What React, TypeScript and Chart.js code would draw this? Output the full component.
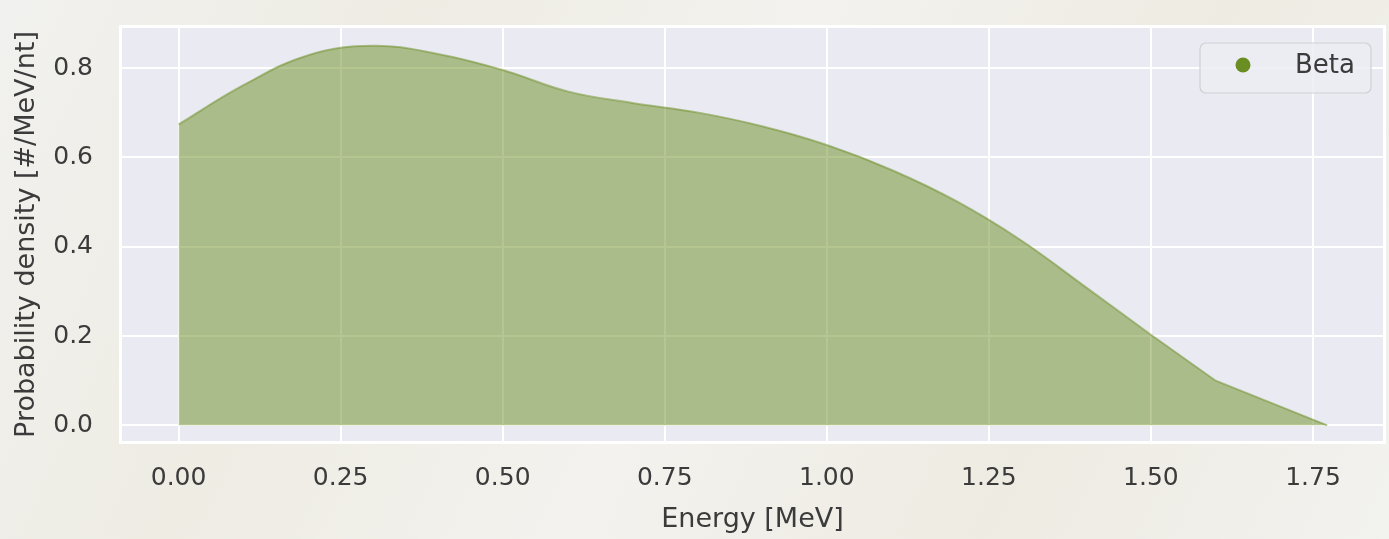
import React, { useEffect, useRef } from "react";
import { Chart, registerables } from "chart.js";

Chart.register(...registerables);

const energy = [0, 0.1, 0.2, 0.3, 0.4, 0.5, 0.6, 0.7, 0.8, 0.9, 1.0, 1.1, 1.2, 1.3, 1.4, 1.5, 1.6, 1.772];
const density = [0.674, 0.762, 0.829, 0.85, 0.832, 0.796, 0.748, 0.722, 0.701, 0.67, 0.628, 0.572, 0.502, 0.414, 0.309, 0.203, 0.1, 0.0];
const xTicks = [0, 0.25, 0.5, 0.75, 1.0, 1.25, 1.5, 1.75];
const yTicks = [0, 0.2, 0.4, 0.6, 0.8];
const seriesLabel = "Beta";
const xTitle = "Energy [MeV]";
const yTitle = "Probability density [#/MeV/nt]";
// index where the curve turns into straight segments (tail)
const tailStart = 15;

const FONT = '"DejaVu Sans", sans-serif';
const TEXT = "#3b3b3b";
const FILL = "rgba(107,142,35,0.5)";

export default function App() {
  const ref = useRef<HTMLCanvasElement | null>(null);

  useEffect(() => {
    document.body.style.margin = "0";
    const canvas = ref.current;
    if (!canvas) return;

    const bgPlugin = {
      id: "plotBg",
      beforeDraw(chart: any) {
        const { ctx, chartArea: a } = chart;
        ctx.save();
        ctx.fillStyle = "#eaeaf2";
        ctx.fillRect(a.left, a.top, a.right - a.left, a.bottom - a.top);
        ctx.strokeStyle = "#ffffff";
        ctx.lineWidth = 3;
        ctx.strokeRect(a.left - 1.5, a.top - 1.5, a.right - a.left + 3, a.bottom - a.top + 3);
        ctx.restore();
      },
    };

    const legendPlugin = {
      id: "innerLegend",
      afterDraw(chart: any) {
        const { ctx } = chart;
        ctx.save();
        const x = 1200, y = 43, w = 171, h = 50, r = 6;
        ctx.beginPath();
        ctx.moveTo(x + r, y);
        ctx.arcTo(x + w, y, x + w, y + h, r);
        ctx.arcTo(x + w, y + h, x, y + h, r);
        ctx.arcTo(x, y + h, x, y, r);
        ctx.arcTo(x, y, x + w, y, r);
        ctx.closePath();
        ctx.fillStyle = "rgba(236,236,243,0.85)";
        ctx.fill();
        ctx.strokeStyle = "#cfcfd4";
        ctx.lineWidth = 1.2;
        ctx.stroke();
        ctx.beginPath();
        ctx.arc(1243, 65, 7.5, 0, Math.PI * 2);
        ctx.fillStyle = "#6b8e23";
        ctx.fill();
        ctx.fillStyle = TEXT;
        ctx.font = `26px ${FONT}`;
        ctx.textBaseline = "middle";
        ctx.textAlign = "left";
        ctx.fillText(seriesLabel, 1295, 66);
        ctx.restore();
      },
    };

    const pts = energy.map((e, i) => ({ x: e, y: density[i] }));

    const chart = new Chart(canvas, {
      type: "line",
      data: {
        datasets: [
          {
            label: seriesLabel,
            data: pts.slice(0, tailStart + 1),
            borderColor: FILL,
            backgroundColor: FILL,
            borderWidth: 2,
            pointRadius: 0,
            fill: "origin",
            tension: 0.4,
          },
          {
            label: seriesLabel + " tail",
            data: pts.slice(tailStart),
            borderColor: FILL,
            backgroundColor: FILL,
            borderWidth: 2,
            pointRadius: 0,
            fill: "origin",
            tension: 0,
          },
        ],
      },
      options: {
        animation: false,
        responsive: true,
        maintainAspectRatio: false,
        layout: { padding: { top: 28, right: 6, left: 0, bottom: 0 } },
        plugins: { legend: { display: false }, tooltip: { enabled: false } },
        scales: {
          x: {
            type: "linear",
            min: -0.0873,
            max: 1.858,
            afterBuildTicks: (s: any) => {
              s.ticks = xTicks.map((v) => ({ value: v }));
            },
            afterFit: (s: any) => {
              s.height = 98;
              s.paddingLeft = 0;
              s.paddingRight = 0;
            },
            ticks: {
              callback: (v: any) => Number(v).toFixed(2),
              font: { family: FONT, size: 25 },
              color: TEXT,
              padding: 22,
              maxRotation: 0,
              autoSkip: false,
            },
            grid: { color: "#ffffff", lineWidth: 2, drawTicks: false },
            border: { display: false },
            title: {
              display: true,
              text: xTitle,
              color: TEXT,
              font: { family: FONT, size: 27 },
              padding: { top: 0, bottom: 3 },
            },
          },
          y: {
            type: "linear",
            min: -0.035,
            max: 0.89,
            afterBuildTicks: (s: any) => {
              s.ticks = yTicks.map((v) => ({ value: v }));
            },
            afterFit: (s: any) => {
              s.width = 122;
              s.paddingTop = 0;
              s.paddingBottom = 0;
            },
            ticks: {
              callback: (v: any) => Number(v).toFixed(1),
              font: { family: FONT, size: 25 },
              color: TEXT,
              padding: 29,
              autoSkip: false,
            },
            grid: { color: "#ffffff", lineWidth: 2, drawTicks: false },
            border: { display: false },
            title: {
              display: true,
              text: yTitle,
              color: TEXT,
              font: { family: FONT, size: 27 },
              padding: { top: 11, bottom: 0 },
            },
          },
        },
      },
      plugins: [bgPlugin, legendPlugin],
    } as any);

    return () => chart.destroy();
  }, []);

  return (
    <div
      style={{
        position: "absolute",
        left: 0,
        top: 0,
        width: 1389,
        height: 539,
        background:
          "linear-gradient(115deg, #f1f1ef 0%, #eeece3 25%, #f3f2ee 50%, #eeebe2 75%, #f2f2ef 100%)",
      }}
    >
      <canvas ref={ref} />
    </div>
  );
}
